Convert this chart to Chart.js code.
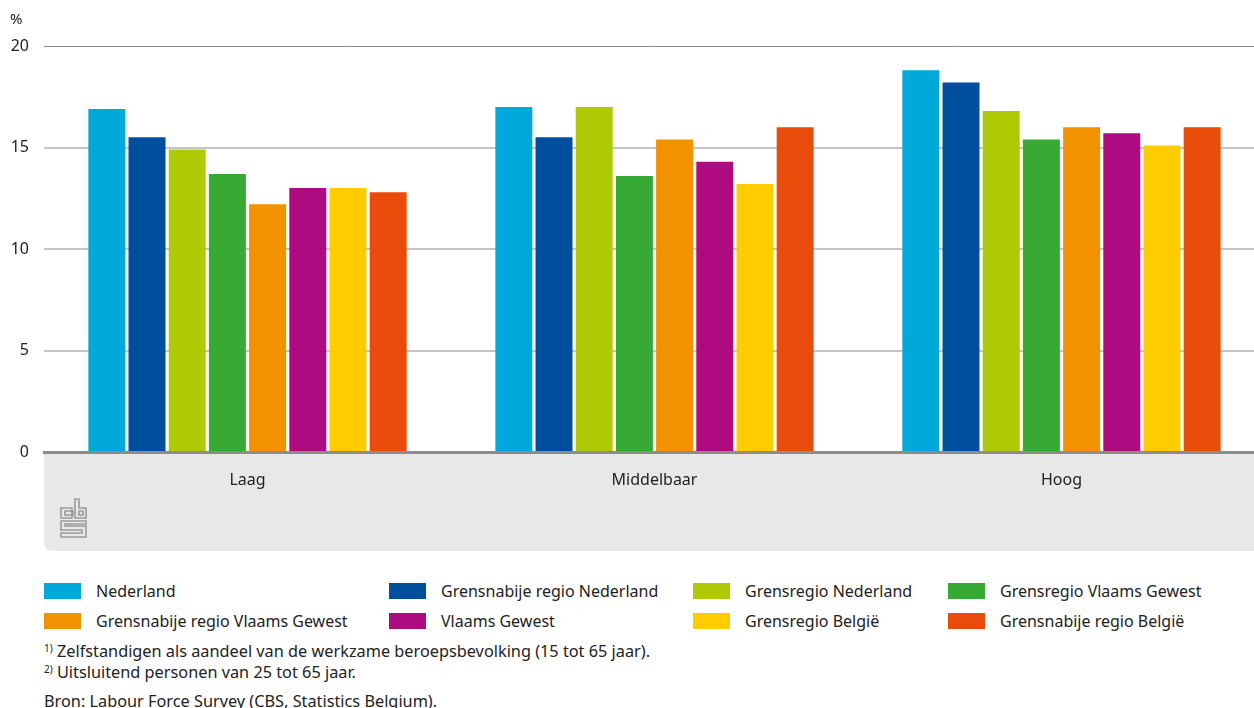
<!DOCTYPE html>
<html>
<head>
<meta charset="utf-8">
<script src="https://cdn.jsdelivr.net/npm/chart.js@4"></script>
<style>
  html, body { margin: 0; padding: 0; background: #fff; overflow: hidden; }
  body { width: 1254px; height: 708px; position: relative; font-family: "Noto Sans", sans-serif; color: #222; }
  #wrap { position: absolute; left: 0; top: 0; width: 1265px; height: 560px; }
  .lg { position: absolute; font-size: 16px; line-height: 18px; white-space: nowrap; }
  .sw { position: absolute; width: 37px; height: 16px; }
  .note { position: absolute; left: 44px; font-size: 16.3px; white-space: nowrap; }
  .note sup { font-size: 10px; vertical-align: 5px; }
</style>
</head>
<body>
<div id="wrap"><canvas id="chart"></canvas></div>
<div id="legend"></div>
<div class="note" style="top:640px"><sup>1)</sup> Zelfstandigen als aandeel van de werkzame beroepsbevolking (15 tot 65 jaar).</div>
<div class="note" style="top:661px"><sup>2)</sup> Uitsluitend personen van 25 tot 65 jaar.</div>
<div class="note" style="top:690px">Bron: Labour Force Survey (CBS, Statistics Belgium).</div>
<script>
// ---- Data ----
const categories = ["Laag", "Middelbaar", "Hoog"];
const seriesNames = [
  "Nederland", "Grensnabije regio Nederland", "Grensregio Nederland", "Grensregio Vlaams Gewest",
  "Grensnabije regio Vlaams Gewest", "Vlaams Gewest", "Grensregio België", "Grensnabije regio België"
];
const nederland = [16.9, 17.0, 18.8];
const grensnabijeNL = [15.5, 15.5, 18.2];
const grensregioNL = [14.9, 17.0, 16.8];
const grensregioVG = [13.7, 13.6, 15.4];
const grensnabijeVG = [12.2, 15.4, 16.0];
const vlaamsGewest = [13.0, 14.3, 15.7];
const grensregioB = [13.0, 13.2, 15.1];
const grensnabijeB = [12.8, 16.0, 16.0];
const yTicks = [0, 5, 10, 15, 20];

const colors = ["#00a9da", "#004f9f", "#afca05", "#37a935", "#f39200", "#af0b80", "#ffcc00", "#e94c0a"];
const values = [nederland, grensnabijeNL, grensregioNL, grensregioVG, grensnabijeVG, vlaamsGewest, grensregioB, grensnabijeB];

// ---- HTML legend ----
const legendCols = [44, 389, 693, 948];
const legendRows = [583, 613];
const legend = document.getElementById("legend");
seriesNames.forEach((name, i) => {
  const x = legendCols[i % 4], y = legendRows[Math.floor(i / 4)];
  legend.innerHTML += `<div class="sw" style="left:${x}px;top:${y}px;background:${colors[i]}"></div>` +
    `<div class="lg" style="left:${x + 52}px;top:${y - 1}px">${name}</div>`;
});

// ---- Background band, unit label and logo ----
const decor = {
  id: "decor",
  beforeDraw(chart) {
    const { ctx, chartArea } = chart;
    const b = chartArea.bottom, l = chartArea.left, r = chart.width, h = 99, rad = 9;
    ctx.save();
    ctx.fillStyle = "#e8e8e8";
    ctx.beginPath();
    ctx.moveTo(l, b);
    ctx.lineTo(r, b);
    ctx.lineTo(r, b + h);
    ctx.lineTo(l + rad, b + h);
    ctx.quadraticCurveTo(l, b + h, l, b + h - rad);
    ctx.closePath();
    ctx.fill();
    ctx.fillStyle = "#222";
    ctx.font = "15px 'Noto Sans'";
    ctx.textBaseline = "middle";
    ctx.fillText("%", 10, 20);
    // cbs logo
    ctx.strokeStyle = "#9a9a9a";
    ctx.lineWidth = 1.6;
    const x0 = 61, y0 = b + 47;
    ctx.beginPath();
    ctx.rect(x0, y0 + 9, 11, 10);
    ctx.rect(x0 + 4, y0 + 12, 8, 4);
    ctx.moveTo(x0 + 14, y0);
    ctx.lineTo(x0 + 14, y0 + 19);
    ctx.lineTo(x0 + 25, y0 + 19);
    ctx.lineTo(x0 + 25, y0 + 9);
    ctx.lineTo(x0 + 18, y0 + 9);
    ctx.lineTo(x0 + 18, y0);
    ctx.closePath();
    ctx.rect(x0 + 18, y0 + 12, 4, 4);
    ctx.moveTo(x0 + 25, y0 + 22);
    ctx.lineTo(x0, y0 + 22);
    ctx.lineTo(x0, y0 + 31);
    ctx.lineTo(x0 + 21, y0 + 31);
    ctx.lineTo(x0 + 21, y0 + 34);
    ctx.lineTo(x0, y0 + 34);
    ctx.lineTo(x0, y0 + 38);
    ctx.lineTo(x0 + 25, y0 + 38);
    ctx.lineTo(x0 + 25, y0 + 27);
    ctx.lineTo(x0 + 4, y0 + 27);
    ctx.lineTo(x0 + 4, y0 + 25);
    ctx.lineTo(x0 + 25, y0 + 25);
    ctx.closePath();
    ctx.stroke();
    ctx.restore();
  }
};

// ---- Chart ----
new Chart(document.getElementById("chart"), {
  type: "bar",
  data: {
    labels: categories,
    datasets: seriesNames.map((name, i) => ({
      label: name,
      data: values[i],
      backgroundColor: colors[i],
      categoryPercentage: 0.79,
      barPercentage: 0.92,
    })),
  },
  options: {
    responsive: true,
    maintainAspectRatio: false,
    animation: false,
    layout: { padding: { top: 46, right: 0, left: 0, bottom: 0 } },
    plugins: { legend: { display: false }, tooltip: { enabled: false } },
    scales: {
      x: {
        grid: { display: false },
        border: { color: "#8c8c8c", width: 3 },
        ticks: { color: "#222", font: { family: "Noto Sans", size: 16 }, padding: 11 },
        afterFit(scale) { scale.height = 108; },
      },
      y: {
        min: 0,
        max: 20,
        afterBuildTicks(scale) { scale.ticks = yTicks.map(v => ({ value: v })); },
        afterFit(scale) { scale.width = 44; },
        border: { display: false },
        grid: {
          drawTicks: false,
          color: ctx => ctx.tick && ctx.tick.value === 20 ? "#8a8a8a" : "#c4c4c4",
          lineWidth: ctx => ctx.tick && ctx.tick.value === 20 ? 1 : 2,
        },
        ticks: { color: "#222", font: { family: "Noto Sans", size: 16 }, padding: 15 },
      },
    },
  },
  plugins: [decor],
});
</script>
</body>
</html>
